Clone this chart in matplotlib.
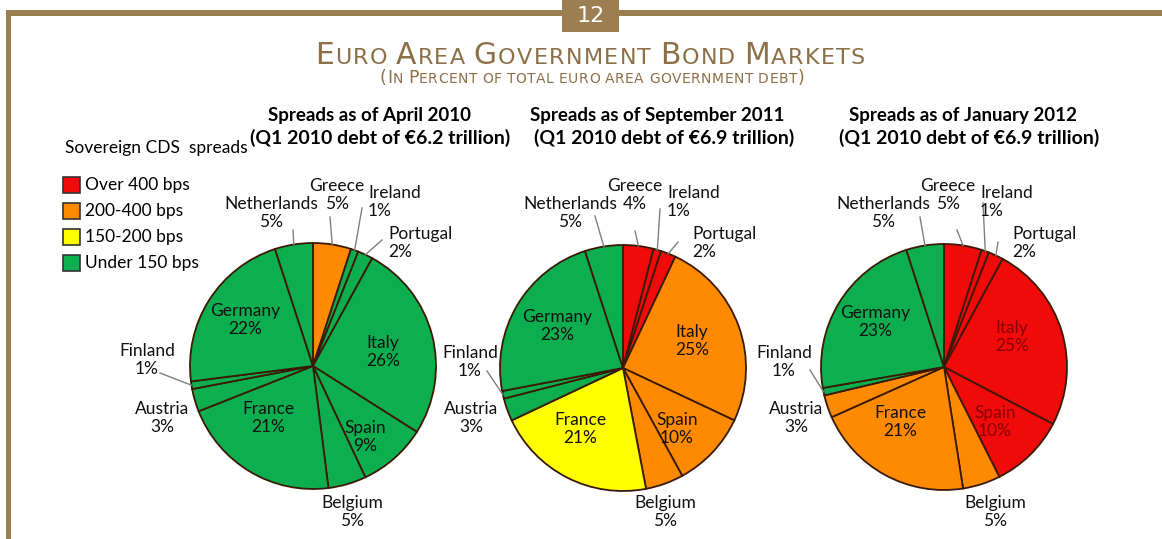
import matplotlib
matplotlib.use("Agg")
import matplotlib.pyplot as plt
from matplotlib.patches import Rectangle
import numpy as np

# --- data ---
countries = ["Greece", "Ireland", "Portugal", "Italy", "Spain", "Belgium",
             "France", "Austria", "Finland", "Germany", "Netherlands"]
shares_apr2010 = [5, 1, 2, 26, 9, 5, 21, 3, 1, 22, 5]
shares_sep2011 = [4, 1, 2, 25, 10, 5, 21, 3, 1, 23, 5]
shares_jan2012 = [5, 1, 2, 25, 10, 5, 21, 3, 1, 23, 5]

# spread bucket per country (0: >400, 1: 200-400, 2: 150-200, 3: <150)
bucket_apr2010 = [1, 3, 3, 3, 3, 3, 3, 3, 3, 3, 3]
bucket_sep2011 = [0, 0, 0, 1, 1, 1, 2, 3, 3, 3, 3]
bucket_jan2012 = [0, 0, 0, 0, 0, 1, 1, 1, 3, 3, 3]

bucket_labels = ["Over 400 bps", "200-400 bps", "150-200 bps", "Under 150 bps"]
bucket_colors = ["#F00A0A", "#FF8A00", "#FFFF00", "#0DAE4F"]

panel_titles = ["Spreads as of April 2010", "Spreads as of September 2011",
                "Spreads as of January 2012"]
panel_debt = ["(Q1 2010 debt of €6.2 trillion)", "(Q1 2010 debt of €6.9 trillion)",
              "(Q1 2010 debt of €6.9 trillion)"]

W, H = 1162, 539
BROWN = "#9C7F50"
TITLE_C = "#8C7047"
FONT = "Lato"
LBL = 12.5


def Y(y):
    return H - y


fig = plt.figure(figsize=(W / 100, H / 100), dpi=100)
ax = fig.add_axes([0, 0, 1, 1])

# frame
ax.add_patch(Rectangle((6, Y(16)), W - 6, 6, color=BROWN, lw=0))
ax.add_patch(Rectangle((6, 0), 5, Y(10), color=BROWN, lw=0))
ax.add_patch(Rectangle((562, Y(32)), 57, 32, color=BROWN, lw=0))
ax.text(590.5, Y(16), "12", color="white", fontsize=16, ha="center", va="center",
        family="DejaVu Sans")

renderer = fig.canvas.get_renderer()


def smallcaps(xc, y, s, big, small, color, target_w, space_w):
    """Fake small caps with letter spacing so the line spans target_w pixels."""
    items = []
    for ch in s:
        if ch == " ":
            items.append((None, space_w))
            continue
        size = small if ch.islower() else big
        t = ax.text(0, y, ch.upper(), fontsize=size, color=color, va="baseline",
                    family="DejaVu Sans")
        items.append((t, t.get_window_extent(renderer).width))
    ink = sum(w for _, w in items)
    gaps = len(items) - 1
    track = (target_w - ink) / gaps
    x = xc - target_w / 2
    for t, w in items:
        if t is not None:
            t.set_x(x)
        x += w + track


smallcaps(590, Y(64), "Euro Area Government Bond Markets", 21.5, 16, TITLE_C, 550, 6)
smallcaps(592, Y(83), "(In Percent of total euro area government debt)", 12.5, 10,
          TITLE_C, 425, 4)

# legend
ax.text(65, Y(148), "Sovereign CDS  spreads", fontsize=LBL, family=FONT, va="center")
for i, (lab, col) in enumerate(zip(bucket_labels, bucket_colors)):
    yc = 185 + 26 * i
    ax.add_patch(Rectangle((63, Y(yc + 8)), 17, 16, facecolor=col, edgecolor="#333333", lw=1.2))
    ax.text(85, Y(yc), lab, fontsize=LBL, family=FONT, va="center")

# pie layout (pixel coordinates of centres; label offsets from centre)
centers = [(313, 366), (623, 368), (944, 367)]
radius = 123
title_x = [(370, 380), (657, 664), (963, 969)]

inside_pos = [
    {"Italy": (70, -14), "Germany": (-68, -46), "France": (-45, 52), "Spain": (52, 71)},
    {"Italy": (69, -27), "Germany": (-66, -42), "France": (-43, 61), "Spain": (54, 61)},
    {"Italy": (68, -30), "Germany": (-69, -45), "France": (-44, 55), "Spain": (51, 55)},
]
# (dx, dy of first line, alignment)
outside_pos = [
    {"Greece": (24, -181, "center"), "Ireland": (55, -174, "left"),
     "Portugal": (75, -133, "left"), "Netherlands": (-42, -163, "center"),
     "Finland": (-166, -16, "center"), "Austria": (-151, 42, "center"),
     "Belgium": (39, 136, "center")},
    {"Greece": (12, -183, "center"), "Ireland": (44, -176, "left"),
     "Portugal": (69, -135, "left"), "Netherlands": (-53, -165, "center"),
     "Finland": (-153, -16, "center"), "Austria": (-152, 40, "center"),
     "Belgium": (42, 134, "center")},
    {"Greece": (4, -182, "center"), "Ireland": (36, -175, "left"),
     "Portugal": (68, -134, "left"), "Netherlands": (-61, -164, "center"),
     "Finland": (-160, -15, "center"), "Austria": (-148, 41, "center"),
     "Belgium": (51, 135, "center")},
]
leader_start = [
    {"Greece": (17, -149), "Ireland": (49, -158), "Portugal": (69, -126),
     "Netherlands": (-20, -136), "Finland": (-153, 7)},
    {"Greece": (12, -137), "Ireland": (37, -159), "Portugal": (55, -126),
     "Netherlands": (-28, -152), "Finland": (-136, 3)},
    {"Greece": (13, -137), "Ireland": (39, -164), "Portugal": (54, -125),
     "Netherlands": (-24, -150), "Finland": (-134, 3)},
]

all_shares = [shares_apr2010, shares_sep2011, shares_jan2012]
all_buckets = [bucket_apr2010, bucket_sep2011, bucket_jan2012]

for p in range(3):
    cx, cy = centers[p]
    shares = all_shares[p]
    cols = [bucket_colors[b] for b in all_buckets[p]]
    wedges, _ = ax.pie(shares, colors=cols, startangle=90, counterclock=False,
                       center=(cx, Y(cy)), radius=radius,
                       wedgeprops=dict(edgecolor="#3A1A05", linewidth=1.3))
    tx1, tx2 = title_x[p]
    ax.text(tx1, Y(116), panel_titles[p], fontsize=13.5, fontweight="bold",
            family=FONT, ha="center", va="center")
    ax.text(tx2, Y(138), panel_debt[p], fontsize=14, fontweight="bold",
            family=FONT, ha="center", va="center")

    for name, share, w, b in zip(countries, shares, wedges, all_buckets[p]):
        label = f"{name}\n{share}%"
        if name in inside_pos[p]:
            dx, dy = inside_pos[p][name]
            tc = "#8A0000" if b == 0 and p == 2 else "#111111"
            ax.text(cx + dx, Y(cy + dy), label, fontsize=LBL, family=FONT,
                    ha="center", va="center", linespacing=1.2, color=tc)
        else:
            dx, dy, ha = outside_pos[p][name]
            ax.text(cx + dx, Y(cy + dy + 10), label, fontsize=LBL, family=FONT,
                    ha=ha, va="center", linespacing=1.2, color="#111111",
                    multialignment=ha)
        if name in leader_start[p]:
            mid = np.deg2rad((w.theta1 + w.theta2) / 2)
            sx, sy = leader_start[p][name]
            ex = cx + radius * np.cos(mid)
            ey = Y(cy) + radius * np.sin(mid)
            ax.plot([cx + sx, ex], [Y(cy + sy), ey], color="#7F7F7F", lw=1)

ax.set_xlim(0, W)
ax.set_ylim(0, H)
ax.set_aspect("auto")
ax.axis("off")

fig.savefig("out.png", dpi=100)
